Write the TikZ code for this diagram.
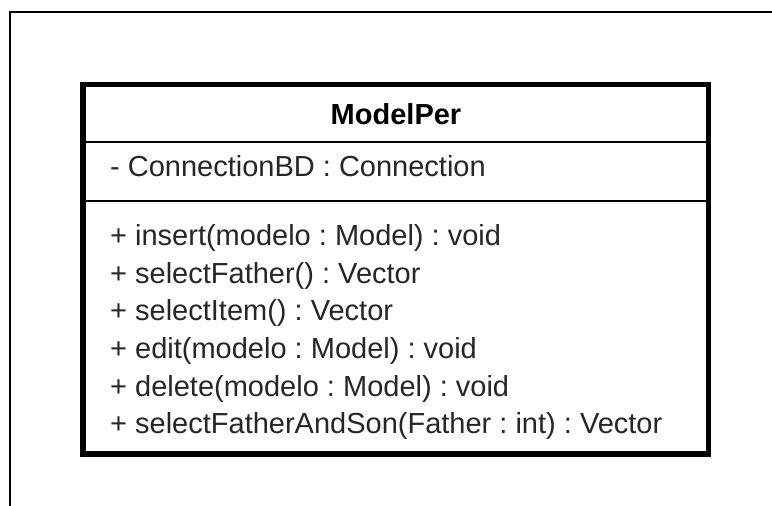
\documentclass[tikz,border=0pt]{standalone}
\usepackage{fontspec}
\setmainfont{Liberation Sans}
\usetikzlibrary{calc}
\frenchspacing

\begin{document}
\begin{tikzpicture}[x=1pt,y=-1pt,
  member/.style={anchor=base west,inner sep=0pt,text=\cText,font=\fontsize{29}{34}\selectfont}]
\def\cLine{black}
\def\cText{black!85}
\def\l{110}
\useasboundingbox (0,0) rectangle (772,506);
% frame of the page
\coordinate (F) at (10,12);
\draw[\cLine, line width=2pt] (10,506) -- (F) -- (772,12);
% class box
\coordinate (NW) at (83,84.5);
\coordinate (SE) at (708.5,454);
\coordinate (S1) at (83,142);
\coordinate (S2) at (83,201);
\draw[\cLine, line width=1.5pt] (S1) -- (S1 -| SE);
\draw[\cLine, line width=1.5pt] (S2) -- (S2 -| SE);
\draw[\cLine, line width=5.5pt] (NW) rectangle (SE);
\node[member, anchor=base, text=black, font=\fontsize{29}{34}\selectfont\bfseries] (name) at (396,124) {ModelPer};
\node[member] (attr) at (\l,176) {- ConnectionBD : Connection};
\foreach \y/\t [count=\i] in {245/{+ insert(modelo : Model) : void},
                             283/{+ selectFather() : Vector},
                             320/{+ selectItem() : Vector},
                             358/{+ edit(modelo : Model) : void},
                             396/{+ delete(modelo : Model) : void},
                             433/{+ selectFatherAndSon(Father : int) : Vector}}
  \node[member] (m\i) at (\l,\y) {\t};
\end{tikzpicture}
\end{document}
